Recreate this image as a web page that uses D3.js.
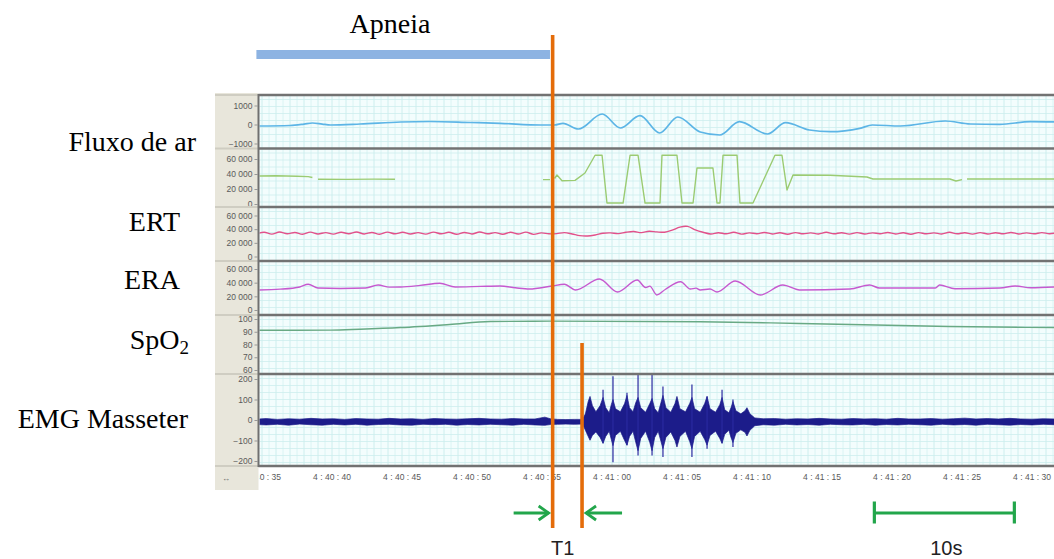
<!DOCTYPE html>
<html><head><meta charset="utf-8">
<script src="https://cdn.jsdelivr.net/npm/d3@7/dist/d3.min.js"></script>
<style>html,body{margin:0;padding:0;background:#fff;}svg{display:block}</style>
</head><body>
<svg id="chart" width="1054" height="559"></svg>
<script>
// ================= DATA =================
// time in seconds after 4:40:00
const timeTicks = [35,40,45,50,55,60,65,70,75,80,85,90];
const timeTickLabels = ["4 : 40 : 35","4 : 40 : 40","4 : 40 : 45","4 : 40 : 50","4 : 40 : 55","4 : 41 : 00",
  "4 : 41 : 05","4 : 41 : 10","4 : 41 : 15","4 : 41 : 20","4 : 41 : 25","4 : 41 : 30"];

const channelLabels = ["Fluxo de ar","","ERT","ERA","SpO2","EMG Masseter"];

const airflowTicks = [1000,0,-1000];
const airflowTickLabels = ["1000","0","\u22121000"];
const effortTicks = [60,40,20,0];            // thousands
const effortTickLabels = ["60 000","40 000","20 000","0"];
const spo2Ticks = [100,90,80,70,60];
const spo2TickLabels = ["100","90","80","70","60"];
const emgTicks = [200,100,0,-100,-200];
const emgTickLabels = ["200","100","0","\u2212100","\u2212200"];

// Fluxo de ar  [t, value]
const airflow = [[34.6,-79],[37.0,-53],[38.0,20],[38.6,79],[39.3,20],[39.9,-26],[42.0,26],[44.9,132],[47.0,158],
  [49.9,105],[52.0,63],[54.9,-26],[55.9,-26],[56.5,63],[57.6,-237],[59.3,552],[60.6,-184],[62.0,463],[63.4,-447],
  [64.7,395],[66.3,-395],[67.7,-552],[69.1,147],[71.1,-500],[72.4,95],[74.1,-289],[75.6,-379],[77.7,-200],
  [78.6,-26],[80.6,-79],[83.8,184],[85.6,26],[87.7,10],[89.9,147],[91.8,132]];

// second channel (green), thousands; null = gap
const flowPressure = [[34.6,37.3],[36.0,37.6],[37.5,37.0],[38.3,36.5],[38.6,35.3],[38.75,null],[39.0,33.0],[41.0,32.8],
  [43.0,33.2],[44.5,33.0],[44.6,null],
  [55.07,32.5],[55.57,32.5],[55.7,null],[55.9,34.0],[56.07,38.7],[56.43,31.0],[57.36,31.5],[58.07,41.3],[58.79,65],
  [59.29,65],[59.64,1.3],[60.79,1.3],[61.29,65],[61.86,65],[62.36,1.3],[63.43,1.3],[63.57,65],[64.64,65],[65.0,1.3],
  [65.79,1.3],[66.07,48],[67.21,48],[67.5,1.3],[67.71,1.3],[67.93,65],[68.93,65],[69.14,1.3],[70.07,1.3],[71.64,65],
  [72.14,65],[72.5,18.7],[72.93,38.7],[75.57,38.3],[78.21,36.0],[78.64,33.3],[84.14,33.3],[84.57,30.7],[85.0,32.5],
  [85.1,null],[85.36,33.3],[91.6,33.3]];

// ERT, thousands, sampled every ertStep seconds from ertStart
const ertStart = 34.6, ertStep = 0.55;
const ert = [33.0,35.5,32.8,35.8,33.2,35.2,32.6,35.6,33.0,35.0,
  32.8,35.4,33.4,35.8,33.0,35.2,32.6,35.6,33.2,35.4,
  33.0,35.0,32.8,35.6,33.2,35.4,32.6,35.2,33.0,35.8,
  33.2,35.0,32.6,35.4,33.0,35.6,32.4,34.6,33.2,
  33.5,35.0,33.0,30.5,30.0,31.5,34.0,34.5,33.5,35.5,36.5,35.0,37.0,36.0,35.5,38.5,43.0,44.0,39.0,
  35.5,33.0,34.8,33.2,35.4,32.8,34.6,33.4,35.2,33.0,
  34.8,32.6,35.0,33.2,34.6,33.0,35.4,33.2,34.8,32.8,
  35.0,33.0,34.6,33.4,35.2,33.0,34.8,32.6,35.0,33.2,
  34.6,33.0,35.4,33.2,34.8,32.8,35.0,33.0,34.8,33.2,
  35.2,33.0,34.6,33.2,35.0,33.4,34.8];

// ERA, thousands  [t, value]
const era = [[34.6,29.3],[36.3,30.5],[37.7,33.7],[38.3,37.6],[39.0,32.2],[40.6,31.5],[42.4,32.2],[43.3,36.6],[44.1,33.5],
  [44.9,33.7],[46.3,36.0],[47.7,39.1],[48.8,33.7],[50.6,34.5],[52.0,35.1],[53.1,32.5],[54.1,30.7],[55.7,35.1],
  [56.6,37.6],[57.4,29.3],[59.1,45.4],[60.4,26.4],[61.8,43.9],[62.4,33.0],[62.7,35.0],[63.2,22.0],[63.8,30.0],
  [64.9,41.4],[65.6,30.7],[66.0,32.0],[66.3,29.3],[67.0,30.7],[67.5,26.4],[68.8,42.5],[70.6,22.0],[72.2,36.6],
  [73.4,29.3],[77.0,30.7],[78.4,36.6],[79.1,32.2],[83.1,32.2],[83.4,36.6],[84.5,31.2],[87.7,32.2],[88.8,35.1],
  [89.9,32.5],[91.6,33.7]];

// SpO2 %  [t, value]
const spo2 = [[34.6,91.2],[39.9,91.3],[42.0,92.0],[44.9,93.3],[48.4,95.7],[51.3,98.0],[55.6,98.3],[66.3,97.8],
  [73.4,96.5],[84.1,94.1],[91.7,93.3]];

// EMG envelope [t, upper, lower] (µV)
const emgEnvelope = [[34.6,4,-22],[35.3,7,-24],[36.1,3,-21],[36.9,6,-25],[37.7,4,-20],[38.5,8,-23],[39.3,5,-25],
  [40.1,6,-21],[40.9,3,-24],[41.7,7,-21],[42.5,5,-25],[43.3,4,-22],[44.1,8,-21],[44.9,5,-24],[45.7,6,-25],
  [46.5,3,-21],[47.3,7,-23],[48.1,5,-21],[48.9,4,-25],[49.7,6,-22],[50.5,8,-24],[51.3,5,-21],[52.1,4,-23],
  [52.9,7,-25],[53.7,5,-21],[54.5,5,-24],[55.2,14,-26],[55.6,6,-22],[56.1,3,-21],[56.7,2,-20],[57.3,3,-21],
  [57.9,3,-20],
  [58.1,30,-50],[58.3,90,-80],[58.43,115,-99],[58.6,70,-75],[58.85,40,-58],
  [59.15,70,-85],[59.36,110,-114],[59.55,60,-80],[59.8,35,-55],
  [59.95,75,-95],[60.07,100,-125],[60.25,55,-75],[60.6,40,-55],
  [60.9,80,-100],[61.07,120,-123],[61.25,60,-80],[61.5,40,-55],
  [61.7,85,-110],[61.86,110,-150],[62.05,60,-90],[62.4,38,-55],
  [62.7,80,-110],[62.86,105,-150],[63.05,55,-85],[63.3,35,-55],
  [63.5,85,-105],[63.64,120,-140],[63.85,60,-85],[64.2,38,-58],
  [64.5,80,-100],[64.64,115,-132],[64.85,55,-80],[65.25,40,-55],
  [65.55,80,-105],[65.71,110,-140],[65.9,55,-80],[66.3,38,-55],
  [66.62,80,-95],[66.79,115,-123],[67.0,55,-75],[67.4,38,-55],
  [67.7,75,-90],[67.86,110,-114],[68.05,50,-70],[68.35,35,-50],
  [68.5,60,-85],[68.64,90,-110],[68.85,45,-65],[69.2,30,-48],
  [69.5,45,-60],[69.64,60,-78],[69.85,30,-50],[70.2,10,-28],
  [70.8,6,-23],[71.6,7,-25],[72.4,4,-21],[73.2,6,-24],[74.0,5,-22],[74.8,8,-25],[75.6,5,-21],[76.4,4,-23],
  [77.2,7,-24],[78.0,5,-21],[78.8,6,-25],[79.6,4,-22],[80.4,8,-24],[81.2,5,-21],[82.0,5,-23],[82.8,7,-25],
  [83.6,4,-21],[84.4,6,-24],[85.2,9,-22],[86.0,5,-25],[86.8,7,-21],[87.6,5,-23],[88.4,8,-25],[89.2,5,-22],
  [90.0,4,-24],[90.8,6,-21],[91.6,5,-23]];
// EMG spikes [t, top, bottom]
const emgSpikes = [[59.36,148,-114],[60.07,214,-206],[61.07,133,-123],[61.86,232,-173],[62.86,222,-173],
  [63.64,164,-181],[65.71,173,-181],[66.79,115,-140],[67.86,148,-114],[68.64,100,-132]];

// annotations (seconds)
const apneaStart = 34.6, apneaEnd = 55.57;
const t1Start = 55.76, t1End = 57.86;
const scaleBarStart = 78.74, scaleBarLength = 10;

// ================= LAYOUT =================
const W = 1054, H = 559;
const x = d3.scaleLinear().domain([35, 90]).range([262, 1032]);
const plotLeft = 258.5;
const panels = [
  {top:96,  bottom:148, domain:[-1000,1000], range:[143.5,105.5], ticks:airflowTicks, labels:airflowTickLabels},
  {top:149.5,bottom:206, domain:[0,60], range:[204,159], ticks:effortTicks, labels:effortTickLabels},
  {top:208, bottom:260, domain:[0,60], range:[256.5,215.5], ticks:effortTicks, labels:effortTickLabels},
  {top:262, bottom:314, domain:[0,60], range:[310,269], ticks:effortTicks, labels:effortTickLabels},
  {top:316, bottom:373, domain:[60,100], range:[370,319], ticks:spo2Ticks, labels:spo2TickLabels},
  {top:375, bottom:465, domain:[-200,200], range:[461,379], ticks:emgTicks, labels:emgTickLabels}
];
const separators = [95,148.5,207,261,315,374,466];
const labelPos = [{x:196,y:151},null,{x:180,y:231},{x:180,y:289},{x:189,y:349},{x:188,y:428}];

const svg = d3.select('#chart');
const defs = svg.append('defs');
svg.append('rect').attr('width',W).attr('height',H).attr('fill','#fff');
svg.append('rect').attr('x',215).attr('y',93).attr('width',plotLeft-215).attr('height',397).attr('fill','#e8e6db');
svg.append('rect').attr('x',plotLeft).attr('y',95).attr('width',W-plotLeft).attr('height',371).attr('fill','#f3fdfd');

defs.append('clipPath').attr('id','plotclip').append('rect')
  .attr('x',plotLeft+1).attr('y',95).attr('width',W-plotLeft).attr('height',371);

// grid
const grid = svg.append('g').attr('clip-path','url(#plotclip)');
d3.range(34.5, 92.1, 0.5).forEach(t=>{
  grid.append('line').attr('x1',x(t)).attr('x2',x(t)).attr('y1',95).attr('y2',466)
    .attr('stroke',(Math.round(t*2)%2===0)?'#c3eaea':'#d3f1f1').attr('stroke-width',0.8);
});
panels.forEach(p=>{
  d3.range(p.top+3.5, p.bottom, 7).forEach(yy=>{
    grid.append('line').attr('x1',plotLeft).attr('x2',W).attr('y1',yy).attr('y2',yy)
      .attr('stroke','#cdeeee').attr('stroke-width',0.8);
  });
});

// scales & clips per panel
panels.forEach((p,i)=>{
  p.y = d3.scaleLinear().domain(p.domain).range(p.range);
  defs.append('clipPath').attr('id','pc'+i).append('rect')
    .attr('x',plotLeft+1).attr('y',p.top).attr('width',W-plotLeft).attr('height',p.bottom-p.top);
  defs.append('clipPath').attr('id','lc'+i).append('rect')
    .attr('x',215).attr('y',p.top).attr('width',plotLeft-215).attr('height',p.bottom-p.top);
  const outer = svg.append('g').attr('clip-path','url(#lc'+i+')');
  const axG = outer.append('g').attr('transform','translate('+(plotLeft-1)+',0)')
    .call(d3.axisLeft(p.y).tickValues(p.ticks).tickFormat((d,j)=>p.labels[j]).tickSize(3).tickPadding(2));
  axG.select('.domain').remove();
  axG.selectAll('line').attr('stroke','#999');
  axG.selectAll('text').attr('font-family','Liberation Sans, Arial, sans-serif').attr('font-size',8.5).attr('fill','#5a5a5a');
});

// traces
const P = panels;
function lineFor(p, curve){ return d3.line().defined(d=>d[1]!==null).x(d=>x(d[0])).y(d=>p.y(d[1])).curve(curve||d3.curveLinear); }

svg.append('path').datum(airflow).attr('clip-path','url(#pc0)')
  .attr('d',lineFor(P[0], d3.curveMonotoneX)).attr('fill','none').attr('stroke','#5cb5e6').attr('stroke-width',1.7);

svg.append('path').datum(flowPressure).attr('clip-path','url(#pc1)')
  .attr('d',lineFor(P[1])).attr('fill','none').attr('stroke','#9bcb72').attr('stroke-width',1.4).attr('stroke-linejoin','round');

svg.append('path').datum(ert).attr('clip-path','url(#pc2)')
  .attr('d',d3.line().x((d,i)=>x(ertStart+i*ertStep)).y(d=>P[2].y(d)).curve(d3.curveCatmullRom.alpha(0.5)))
  .attr('fill','none').attr('stroke','#e2508a').attr('stroke-width',1.4);

svg.append('path').datum(era).attr('clip-path','url(#pc3)')
  .attr('d',lineFor(P[3], d3.curveMonotoneX)).attr('fill','none').attr('stroke','#c659cf').attr('stroke-width',1.4);

svg.append('path').datum(spo2).attr('clip-path','url(#pc4)')
  .attr('d',lineFor(P[4], d3.curveMonotoneX)).attr('fill','none').attr('stroke','#68a984').attr('stroke-width',1.4);

const emgG = svg.append('g').attr('clip-path','url(#pc5)');
emgG.append('path').datum(emgEnvelope)
  .attr('d',d3.area().x(d=>x(d[0])).y1(d=>P[5].y(d[1])).y0(d=>P[5].y(d[2])))
  .attr('fill','#1c1c8a').attr('stroke','#1c1c8a').attr('stroke-width',0.7);
emgG.selectAll('line.spk').data(emgSpikes).enter().append('line')
  .attr('x1',d=>x(d[0])).attr('x2',d=>x(d[0])).attr('y1',d=>P[5].y(d[1])).attr('y2',d=>P[5].y(d[2]))
  .attr('stroke','#2a2aa0').attr('stroke-width',1.2);

// separators & frame
separators.forEach(s=>{
  svg.append('line').attr('x1',215).attr('x2',plotLeft).attr('y1',s).attr('y2',s).attr('stroke','#cfcdc2').attr('stroke-width',2);
  svg.append('line').attr('x1',plotLeft).attr('x2',W).attr('y1',s).attr('y2',s).attr('stroke','#727272').attr('stroke-width',2.6);
});
svg.append('line').attr('x1',plotLeft).attr('x2',plotLeft).attr('y1',94).attr('y2',467).attr('stroke','#707070').attr('stroke-width',2);

// time axis labels
defs.append('clipPath').attr('id','tclip').append('rect').attr('x',plotLeft+1).attr('y',466).attr('width',W-plotLeft).attr('height',24);
const tg = svg.append('g').attr('clip-path','url(#tclip)');
tg.selectAll('text').data(timeTicks).enter().append('text')
  .attr('x',d=>x(d)).attr('y',480).attr('text-anchor','middle')
  .attr('font-family','Liberation Sans, Arial, sans-serif').attr('font-size',8.5).attr('fill','#5a5a5a')
  .text((d,i)=>timeTickLabels[i]);
svg.append('text').attr('x',222).attr('y',481).attr('font-size',8).attr('fill','#666').text('\u2194');

// channel labels
channelLabels.forEach((lab,i)=>{
  if(!lab) return;
  const t = svg.append('text').attr('x',labelPos[i].x).attr('y',labelPos[i].y).attr('text-anchor','end')
    .attr('font-family','Liberation Serif, Times New Roman, serif').attr('font-size',28).attr('fill','#000');
  if(lab==='SpO2'){ t.append('tspan').text('SpO'); t.append('tspan').attr('font-size',19).attr('dy',5).text('2'); }
  else t.text(lab);
});

// apnea annotation
svg.append('rect').attr('x',x(apneaStart)).attr('y',50).attr('width',x(apneaEnd)-x(apneaStart)).attr('height',9).attr('fill','#8db3e2');
svg.append('text').attr('x',390).attr('y',33).attr('text-anchor','middle')
  .attr('font-family','Liberation Serif, Times New Roman, serif').attr('font-size',28).text('Apneia');

// orange markers
const orange = '#e46c0a';
svg.append('line').attr('x1',x(t1Start)).attr('x2',x(t1Start)).attr('y1',35).attr('y2',528).attr('stroke',orange).attr('stroke-width',3.6);
svg.append('line').attr('x1',x(t1End)).attr('x2',x(t1End)).attr('y1',343).attr('y2',528).attr('stroke',orange).attr('stroke-width',3.6);

// green arrows
const green = '#22a64b';
const ay = 513;
function arrow(x0, x1){
  const dir = Math.sign(x1-x0);
  svg.append('line').attr('x1',x0).attr('x2',x1).attr('y1',ay).attr('y2',ay).attr('stroke',green).attr('stroke-width',2.8);
  svg.append('path').attr('d',`M${x1-dir*10},${ay-7} L${x1},${ay} L${x1-dir*10},${ay+7}`)
    .attr('fill','none').attr('stroke',green).attr('stroke-width',2.8).attr('stroke-linejoin','miter');
}
arrow(x(t1Start)-39, x(t1Start)-4);
arrow(x(t1End)+40, x(t1End)+4);
svg.append('text').attr('x',x(t1Start)+10).attr('y',555).attr('text-anchor','middle')
  .attr('font-family','Liberation Sans, Arial, sans-serif').attr('font-size',20).attr('fill','#222').text('T1');

// 10 s scale bar
const sb0 = x(scaleBarStart), sb1 = x(scaleBarStart+scaleBarLength);
svg.append('line').attr('x1',sb0).attr('x2',sb1).attr('y1',ay).attr('y2',ay).attr('stroke',green).attr('stroke-width',3);
[sb0,sb1].forEach(xx=>svg.append('line').attr('x1',xx).attr('x2',xx).attr('y1',501.5).attr('y2',523.5).attr('stroke',green).attr('stroke-width',3.2));
svg.append('text').attr('x',(sb0+sb1)/2+2).attr('y',555).attr('text-anchor','middle')
  .attr('font-family','Liberation Sans, Arial, sans-serif').attr('font-size',20).attr('fill','#222').text('10s');
</script>
</body></html>
